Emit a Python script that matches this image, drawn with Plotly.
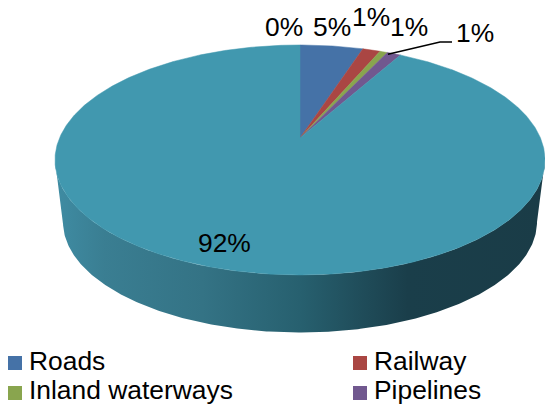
import math
import numpy as np
import plotly.graph_objects as go

# Data
categories = ["Roads", "Railway", "Inland waterways", "Pipelines", "Other", "Air"]
values = [5.0, 1.4, 0.6, 1.1, 91.9, 0.0]
colors = ["#4572A7", "#AA4643", "#89A54E", "#71588F", "#4198AF", "#4198AF"]
legend_names = categories[:4]
legend_colors = colors[:4]

# Label positions (pixels) per value
label_pos = [(332, 27), (371, 17), (409, 27), (475, 33), (224, 243), (284, 27)]

# Perspective pie geometry (pixels)
AX, AY = 300.0, 138.0
A, B, P = 240.5, 110.8, 0.191
BOT_CX, BOT_CY, BOT_RX, BOT_RY = 300.0, 222.0, 237.0, 110.5
FONT = "Liberation Sans, Arial, sans-serif"


def project(theta):
    u, v = np.sin(theta), np.cos(theta)
    d = 1 + P * v
    return AX + A * u / d, AY - B * v / d


fig = go.Figure()

# Side wall: lower half of the rim down to the bottom ellipse
tt = np.linspace(0, 2 * math.pi, 721)
tx, ty = project(tt)
i_r, i_l = int(np.argmax(tx)), int(np.argmin(tx))
rim_x, rim_y = tx[i_r:i_l + 1], ty[i_r:i_l + 1]
phi = np.linspace(math.pi, 0, 300)
bx = BOT_CX + BOT_RX * np.cos(phi)
by = BOT_CY + BOT_RY * np.sin(phi)
fig.add_trace(go.Scatter(
    x=np.concatenate([rim_x, bx]), y=np.concatenate([rim_y, by]),
    mode="lines", line=dict(width=0), fill="toself",
    fillgradient=dict(type="horizontal", colorscale=[
        [0.0, "#3F8CA3"], [0.1, "#3A7E92"], [0.3, "#347385"],
        [0.5, "#27606F"], [0.72, "#1A3E4A"], [1.0, "#1A3C47"]]),
    showlegend=False, hoverinfo="skip"))

# Slices
cum = 0.0
total = sum(values)
mids = []
for name, val, col in zip(categories, values, colors):
    a0 = cum / total * 2 * math.pi
    cum += val
    a1 = cum / total * 2 * math.pi
    mids.append((a0 + a1) / 2)
    if val <= 0:
        continue
    th = np.linspace(a0, a1, max(3, int(val * 8)))
    x, y = project(th)
    fig.add_trace(go.Scatter(
        x=np.concatenate([[AX], x, [AX]]), y=np.concatenate([[AY], y, [AY]]),
        mode="lines", line=dict(width=0.5, color=col), fill="toself", fillcolor=col,
        name=name, showlegend=False, hoverinfo="name"))

# Leader line for the Pipelines label
lx, ly = project(mids[3])
fig.add_trace(go.Scatter(
    x=[lx - 6, 440, 452], y=[ly + 0.5, 42, 42], mode="lines",
    line=dict(color="black", width=1.6), showlegend=False, hoverinfo="skip"))

# Legend swatches
legend_x = [15, 360, 15, 360]
legend_y = [363, 363, 393, 393]
legend_text_y = [361, 361, 389.5, 389.5]
fig.add_trace(go.Scatter(
    x=legend_x, y=legend_y, mode="markers",
    marker=dict(symbol="square", size=14, color=legend_colors, line=dict(width=0)),
    showlegend=False, hoverinfo="skip"))

annotations = []
for name, lxx, lyy in zip(legend_names, legend_x, legend_text_y):
    annotations.append(dict(x=lxx + 13, y=lyy, text=name, showarrow=False, xanchor="left",
                            yanchor="middle", xref="x", yref="y",
                            font=dict(family=FONT, size=26.4, color="black"), borderpad=0))
for val, (px, py) in zip(values, label_pos):
    annotations.append(dict(x=px, y=py, text=f"{round(val)}%", showarrow=False,
                            xanchor="center", yanchor="middle", xref="x", yref="y",
                            font=dict(family=FONT, size=26.4, color="black"), borderpad=0))

fig.update_layout(
    width=545, height=408, margin=dict(l=0, r=0, t=0, b=0),
    paper_bgcolor="white", plot_bgcolor="white", showlegend=False,
    xaxis=dict(range=[0, 545], visible=False, fixedrange=True),
    yaxis=dict(range=[408, 0], visible=False, fixedrange=True),
    annotations=annotations)

fig.write_html("out.html", config=dict(displayModeBar=False),
               post_script="document.body.style.margin='0';document.documentElement.style.overflow='hidden';")
